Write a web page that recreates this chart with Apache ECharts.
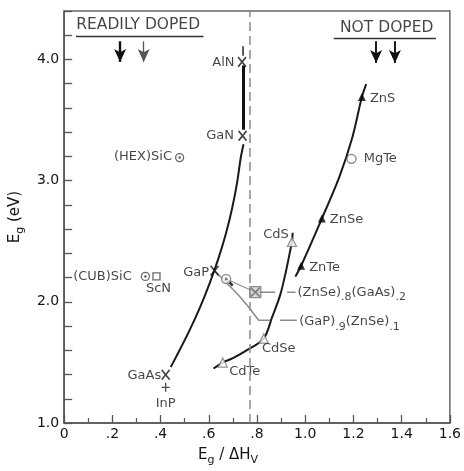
<!DOCTYPE html>
<html>
<head>
<meta charset="utf-8">
<script src="https://cdn.jsdelivr.net/npm/echarts@6/dist/echarts.min.js"></script>
<style>
  html, body { margin: 0; padding: 0; background: #ffffff; }
  #chart { width: 464px; height: 471px; }
</style>
</head>
<body>
<div id="chart"></div>
<script>
// ---- values (Eg/ΔHv , Eg in eV) ----
// III-V compounds drawn as X marks
const crossNames = ['AlN', 'GaN', 'GaP', 'GaAs'];
const crossX = [0.738, 0.740, 0.624, 0.421];
const crossY = [3.98, 3.37, 2.257, 1.398];

// II-VI zinc compounds (filled triangles)
const zincNames = ['ZnS', 'ZnSe', 'ZnTe'];
const zincX = [1.235, 1.069, 0.983];
const zincY = [3.69, 2.687, 2.298];

// cadmium compounds (open triangles)
const cadNames = ['CdS', 'CdSe', 'CdTe'];
const cadX = [0.945, 0.828, 0.658];
const cadY = [2.494, 1.697, 1.499];

// SiC polytypes (dotted circles)
const sicNames = ['(HEX)SiC', '(CUB)SiC'];
const sicX = [0.479, 0.337];
const sicY = [3.19, 2.21];

// single compounds with their own symbols
const mgteName = 'MgTe';  const mgteX = 1.192; const mgteY = 3.18;
const scnName  = 'ScN';   const scnX  = 0.383; const scnY  = 2.21;
const inpName  = 'InP';   const inpX  = 0.421; const inpY  = 1.294;

// alloys
const gapZnseX = 0.672;  const gapZnseY = 2.188;   // (GaP).9(ZnSe).1
const znseGaasX = 0.793; const znseGaasY = 2.08;   // (ZnSe).8(GaAs).2

// trend curves
const nitrideStemX = [0.744, 0.744];
const nitrideStemY = [3.95, 3.42];
const nitrideTipX = [0.742, 0.742];
const nitrideTipY = [4.11, 4.03];
const iiiVCurveX = [0.744, 0.732, 0.717, 0.697, 0.672, 0.641, 0.605, 0.564, 0.517, 0.465, 0.442];
const iiiVCurveY = [3.30, 3.183, 2.979, 2.774, 2.570, 2.365, 2.161, 1.957, 1.752, 1.548, 1.462];
const zincCurveX = [0.959, 0.983, 1.069, 1.142, 1.196, 1.235, 1.253];
const zincCurveY = [2.208, 2.298, 2.687, 3.034, 3.361, 3.69, 3.796];
const cadCurveX = [0.619, 0.658, 0.700, 0.760, 0.828, 0.863, 0.896, 0.920, 0.936, 0.945, 0.948];
const cadCurveY = [1.450, 1.499, 1.535, 1.603, 1.697, 1.875, 2.055, 2.251, 2.406, 2.496, 2.57];

// leader lines for the alloy labels
const gapLeaderX = [0.624, 0.719, 0.760, 0.807, 0.855];
const gapLeaderY = [2.257, 2.065, 1.97, 1.848, 1.848];
const gapDashX = [0.895, 0.965];
const gapDashY = [1.848, 1.848];
const alloyTieX = [0.672, 0.793];
const alloyTieY = [2.188, 2.08];
const alloyArrowX = [0.680, 0.699];
const alloyArrowY = [2.172, 2.134];
const znseLeaderX = [0.793, 0.875];
const znseLeaderY = [2.08, 2.08];
const znseDashX = [0.925, 0.960];
const znseDashY = [2.08, 2.08];
const alloyLabels = ['(ZnSe){s|.8}(GaAs){s|.2}', '(GaP){s|.9}(ZnSe){s|.1}'];
const alloyLabelX = [0.968, 0.975];
const alloyLabelY = [2.08, 1.835];

// reference line separating the two regions
const boundaryX = 0.765;

// region headings and their arrows
const headings = ['READILY DOPED', 'NOT DOPED'];
const headingX = [0.307, 1.338];
const headingY = [4.282, 4.258];
const underlineFrom = [0.049, 1.118];
const underlineTo = [0.578, 1.542];
const underlineY = [4.19, 4.178];
const readilyArrowX = [0.232, 0.330];
const notDopedArrowX = [1.294, 1.372];
const arrowTop = 4.15;
const arrowTip = 3.98;

// axis tick values
const xMin = 0, xMax = 1.6, xStep = 0.2;
const yMin = 1.0, yMax = 4.4, yStep = 0.2;

// ---- styles ----
const FONT = 'DejaVu Sans';
const INK = '#151515';
const GREY = '#8a8a8a';

const crossPath = 'path://M0,1.2L1.2,0L5,3.8L8.8,0L10,1.2L6.2,5L10,8.8L8.8,10L5,6.2L1.2,10L0,8.8L3.8,5Z';
const plusPath = 'path://M4.2,0H5.8V4.2H10V5.8H5.8V10H4.2V5.8H0V4.2H4.2Z';

const labelPlacement = {
  'AlN':      { position: 'left',   distance: 3, offset: [0, 1] },
  'GaN':      { position: 'left',   distance: 4, offset: [0, 0] },
  'GaP':      { position: 'left',   distance: 1, offset: [0, 2] },
  'GaAs':     { position: 'left',   distance: 0, offset: [0, 1] },
  'ZnS':      { position: 'right',  distance: 4, offset: [0, 2] },
  'ZnSe':     { position: 'right',  distance: 4, offset: [0, 1] },
  'ZnTe':     { position: 'right',  distance: 4, offset: [0, 2] },
  'CdS':      { position: 'left',   distance: 0, offset: [2, -7] },
  'CdSe':     { position: 'bottom', distance: 0, offset: [15, -2] },
  'CdTe':     { position: 'bottom', distance: 0, offset: [22, -3] },
  '(HEX)SiC': { position: 'left',   distance: 3, offset: [0, -1] },
  '(CUB)SiC': { position: 'left',   distance: 9, offset: [0, 0] },
  'MgTe':     { position: 'right',  distance: 7, offset: [0, 0] },
  'ScN':      { position: 'bottom', distance: 2, offset: [2, 0] },
  'InP':      { position: 'bottom', distance: 5, offset: [0, 0] }
};

const labelText = { fontFamily: FONT, fontSize: 13, color: INK };

function points(names, xs, ys) {
  return names.map((n, i) => {
    const p = labelPlacement[n];
    return {
      name: n,
      value: [xs[i], ys[i]],
      label: Object.assign({ show: true, formatter: n }, labelText, p)
    };
  });
}
function pairs(xs, ys) { return xs.map((x, i) => [x, ys[i]]); }
function lineSeries(xs, ys, color, width, smooth, type) {
  return {
    type: 'line', data: pairs(xs, ys), smooth: smooth ? 0.3 : false,
    showSymbol: false, symbol: 'none', silent: true, z: 2,
    lineStyle: { color: color, width: width, type: type || 'solid' }
  };
}

const chart = echarts.init(document.getElementById('chart'), null, { renderer: 'canvas' });

const series = [
  // region boundary
  {
    type: 'line', data: [], silent: true,
    markLine: {
      symbol: 'none', silent: true, label: { show: false },
      lineStyle: { color: GREY, width: 1.5, type: [9, 5] },
      data: [{ xAxis: boundaryX }]
    }
  },
  // heading arrows and underlines
  {
    type: 'line', data: [], silent: true,
    markLine: {
      symbol: ['none', 'arrow'], symbolSize: [9, 13], silent: true, label: { show: false },
      data: [
        [{ coord: [readilyArrowX[0], arrowTop], lineStyle: { color: '#111', width: 2.4, type: 'solid' } },
         { coord: [readilyArrowX[0], arrowTip] }],
        [{ coord: [readilyArrowX[1], arrowTop], lineStyle: { color: '#555', width: 1.3, type: 'solid' } },
         { coord: [readilyArrowX[1], arrowTip] }],
        [{ coord: [notDopedArrowX[0], arrowTop], lineStyle: { color: '#111', width: 1.9, type: 'solid' } },
         { coord: [notDopedArrowX[0], arrowTip - 0.01] }],
        [{ coord: [notDopedArrowX[1], arrowTop], lineStyle: { color: '#111', width: 1.9, type: 'solid' } },
         { coord: [notDopedArrowX[1], arrowTip - 0.01] }]
      ]
    }
  },
  {
    type: 'line', data: [], silent: true,
    markLine: {
      symbol: 'none', silent: true, label: { show: false },
      lineStyle: { color: '#333', width: 1.3, type: 'solid' },
      data: underlineFrom.map((x0, i) => [{ coord: [x0, underlineY[i]] }, { coord: [underlineTo[i], underlineY[i]] }])
    }
  },
  // headings
  {
    type: 'scatter', symbolSize: 0, silent: true,
    data: headings.map((h, i) => ({ value: [headingX[i], headingY[i]], name: h })),
    label: { show: true, position: 'inside', formatter: p => p.name, fontFamily: FONT, fontSize: 15.5, color: INK }
  },
  // curves
  lineSeries(nitrideTipX, nitrideTipY, '#222', 1.5, false),
  lineSeries(nitrideStemX, nitrideStemY, '#111', 3, false),
  lineSeries(iiiVCurveX, iiiVCurveY, '#1a1a1a', 2, true),
  lineSeries(zincCurveX, zincCurveY, '#1a1a1a', 2, true),
  lineSeries(cadCurveX, cadCurveY, '#1a1a1a', 2, true),
  // alloy leader lines
  lineSeries(gapLeaderX, gapLeaderY, GREY, 1.5, false),
  lineSeries(gapDashX, gapDashY, GREY, 1.5, false),
  lineSeries(alloyTieX, alloyTieY, '#999', 1.2, false),
  lineSeries(alloyArrowX, alloyArrowY, '#333', 2.5, false),
  lineSeries(znseLeaderX, znseLeaderY, GREY, 1.5, false),
  lineSeries(znseDashX, znseDashY, GREY, 1.5, false),
  // markers
  {
    type: 'scatter', symbol: crossPath, symbolSize: [9, 11], z: 4,
    itemStyle: { color: '#111' },
    data: points(crossNames, crossX, crossY)
  },
  {
    type: 'scatter', symbol: 'triangle', symbolSize: 8, z: 4,
    itemStyle: { color: '#000' },
    data: points(zincNames, zincX, zincY)
  },
  {
    type: 'scatter', symbol: 'triangle', symbolSize: 9, z: 4,
    itemStyle: { color: '#fff', borderColor: '#777', borderWidth: 1.3 },
    data: points(cadNames, cadX, cadY)
  },
  {
    type: 'scatter', symbol: 'circle', symbolSize: 8, z: 4,
    itemStyle: { color: '#fff', borderColor: '#444', borderWidth: 1.3 },
    data: points(sicNames, sicX, sicY)
  },
  {
    type: 'scatter', symbol: 'circle', symbolSize: 2.5, z: 5, silent: true,
    itemStyle: { color: '#333' },
    data: pairs(sicX, sicY)
  },
  {
    type: 'scatter', symbol: 'circle', symbolSize: 9, z: 4,
    itemStyle: { color: '#fff', borderColor: '#666', borderWidth: 1.3 },
    data: points([mgteName], [mgteX], [mgteY])
  },
  {
    type: 'scatter', symbol: 'rect', symbolSize: 7, z: 4,
    itemStyle: { color: '#fff', borderColor: '#444', borderWidth: 1.3 },
    data: points([scnName], [scnX], [scnY])
  },
  {
    type: 'scatter', symbol: plusPath, symbolSize: [8, 9], z: 4,
    itemStyle: { color: '#222' },
    data: points([inpName], [inpX], [inpY])
  },
  // alloy markers
  {
    type: 'scatter', symbol: 'circle', symbolSize: 9, z: 4,
    itemStyle: { color: '#fff', borderColor: '#777', borderWidth: 1.4 },
    data: [[gapZnseX, gapZnseY]]
  },
  {
    type: 'scatter', symbol: 'circle', symbolSize: 3, z: 5,
    itemStyle: { color: '#555' },
    data: [[gapZnseX, gapZnseY]]
  },
  {
    type: 'scatter', symbol: 'rect', symbolSize: 11, z: 4,
    itemStyle: { color: '#cfcfcf', borderColor: '#777', borderWidth: 1.3 },
    data: [[znseGaasX, znseGaasY]]
  },
  {
    type: 'scatter', symbol: crossPath, symbolSize: 10, z: 5,
    itemStyle: { color: '#666' },
    data: [[znseGaasX, znseGaasY]]
  },
  // alloy labels
  {
    type: 'scatter', symbolSize: 0, silent: true, z: 6,
    data: alloyLabels.map((t, i) => ({ value: [alloyLabelX[i], alloyLabelY[i]], name: t })),
    label: {
      show: true, position: 'right', distance: 0, formatter: p => p.name,
      fontFamily: FONT, fontSize: 13, color: INK,
      rich: {
        s: { fontFamily: FONT, fontSize: 11, color: INK, padding: [10, 0, 0, 0] }
      }
    }
  }
];

chart.setOption({
  backgroundColor: '#ffffff',
  animation: false,
  grid: {
    left: 60, right: 11, top: 11, bottom: 44,
    show: true, borderColor: '#666', borderWidth: 1.5, backgroundColor: 'transparent'
  },
  xAxis: {
    type: 'value', min: xMin, max: xMax, interval: xStep,
    axisLine: { lineStyle: { color: '#555', width: 1.5 } },
    axisTick: { inside: true, length: 8, lineStyle: { color: '#555', width: 1.3 } },
    minorTick: { show: true, splitNumber: 2, length: 5, lineStyle: { color: '#555', width: 1.2 } },
    splitLine: { show: false },
    minorSplitLine: { show: false },
    axisLabel: {
      margin: 4, fontFamily: FONT, fontSize: 14, color: INK,
      formatter: v => {
        const k = Math.round(v * 10);
        if (k === 0) return '0';
        if (k < 10) return '.' + k;
        return (k / 10).toFixed(1);
      }
    },
    name: '{t|E}{s|g}{t| / ΔH}{s|V}',
    nameLocation: 'middle', nameGap: 22,
    nameTextStyle: {
      padding: [0, 58, 0, 0],
      rich: {
        t: { fontFamily: FONT, fontSize: 15, color: INK },
        s: { fontFamily: FONT, fontSize: 11, color: INK, padding: [10, 0, 0, 0] }
      }
    }
  },
  yAxis: {
    type: 'value', min: yMin, max: yMax, interval: yStep,
    axisLine: { lineStyle: { color: '#555', width: 1.5 } },
    axisTick: { inside: true, length: 8, lineStyle: { color: '#555', width: 1.3 } },
    splitLine: { show: false },
    axisLabel: {
      margin: 5, fontFamily: FONT, fontSize: 14, color: INK,
      formatter: v => Math.abs(v - Math.round(v)) < 1e-6 ? v.toFixed(1) : ''
    },
    name: '{t|E}{s|g}{t| (eV)}',
    nameLocation: 'middle', nameGap: 38, nameRotate: 90,
    nameTextStyle: {
      rich: {
        t: { fontFamily: FONT, fontSize: 15, color: INK },
        s: { fontFamily: FONT, fontSize: 11, color: INK, padding: [10, 0, 0, 0] }
      }
    }
  },
  series: series
});
</script>
</body>
</html>
